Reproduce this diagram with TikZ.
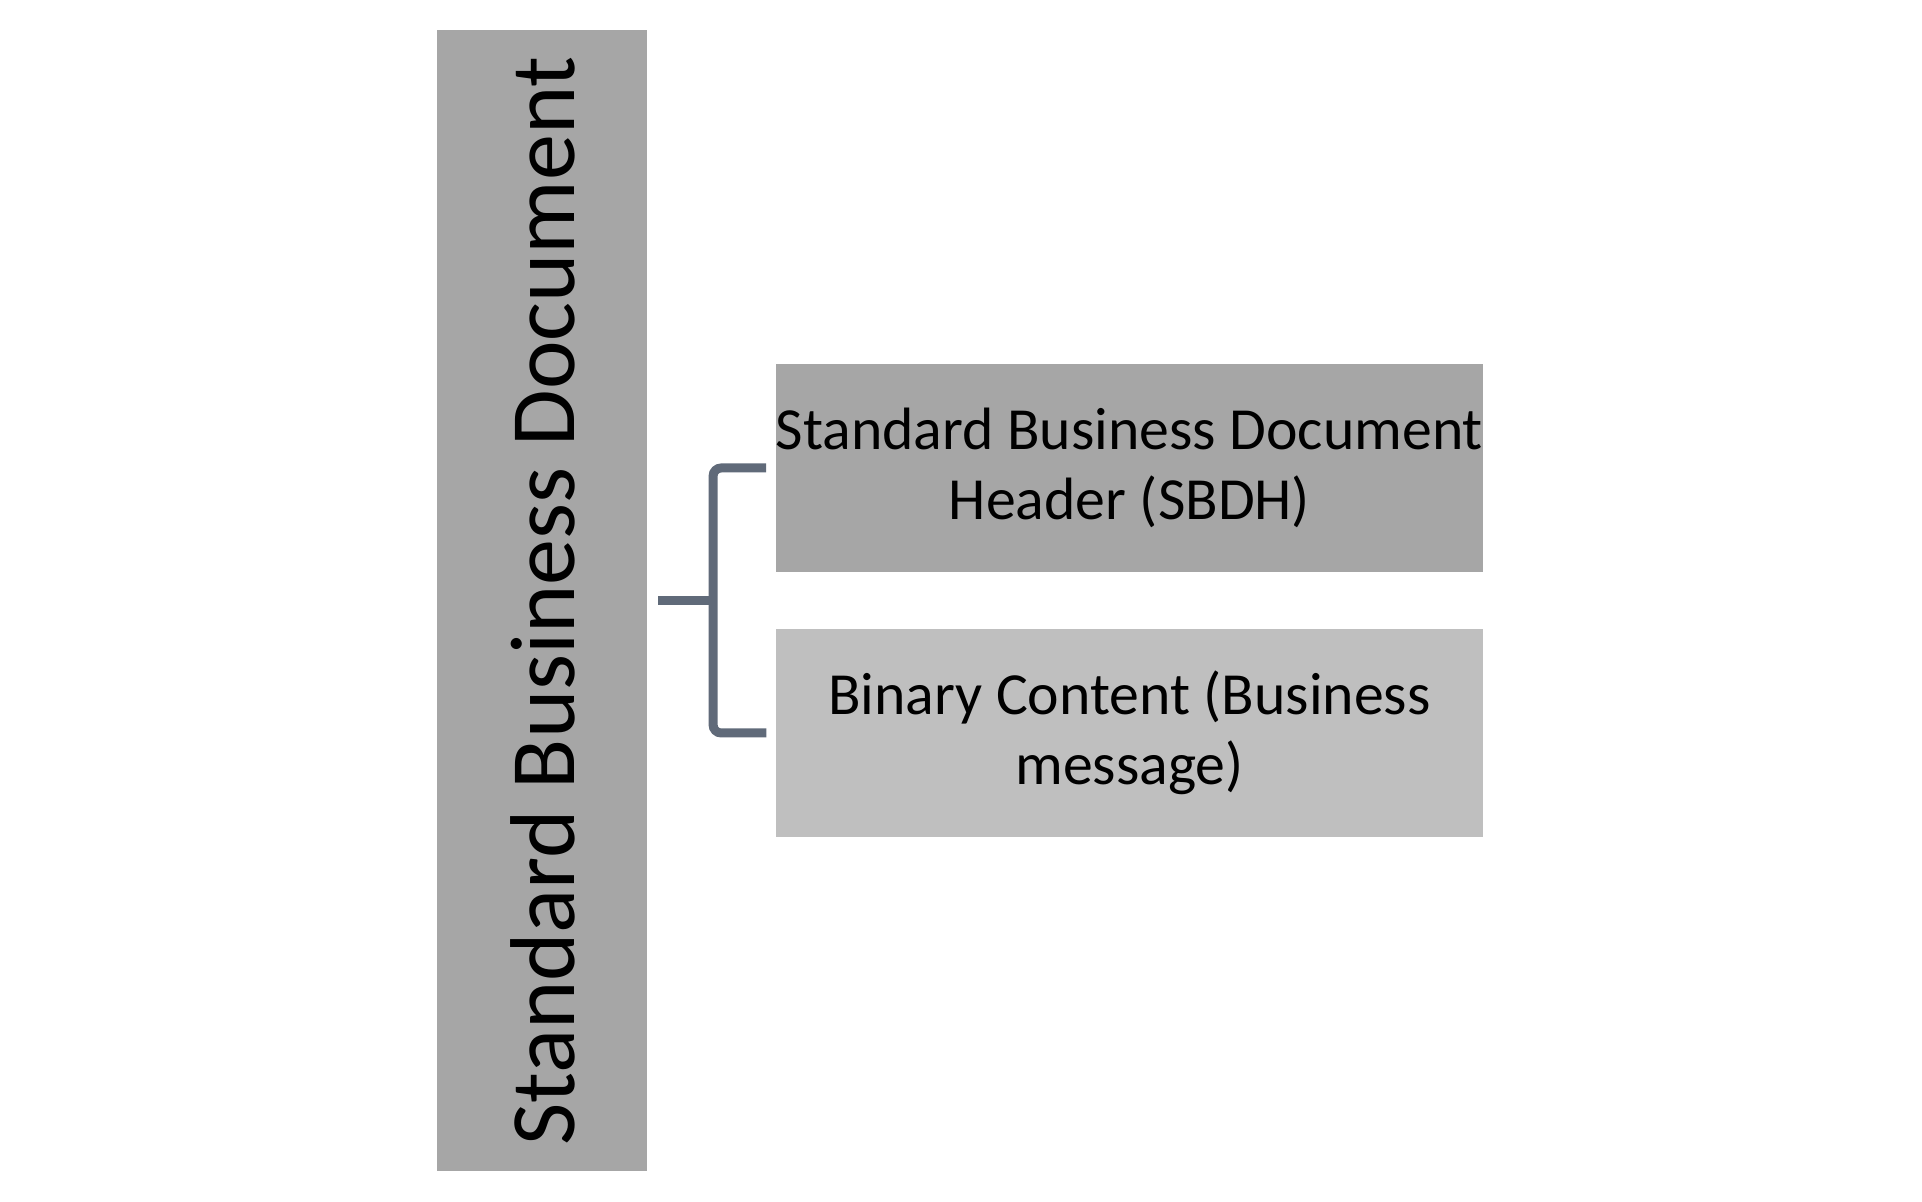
\documentclass[tikz,border=0pt]{standalone}
\usepackage{fontspec}
\setmainfont{Carlito}
\usetikzlibrary{positioning,calc}
\definecolor{bargray}{RGB}{166,166,166}
\definecolor{partgray}{RGB}{191,191,191}
\definecolor{bracketslate}{RGB}{96,106,121}

\begin{document}
\begin{tikzpicture}[
  part/.style={fill=bargray,minimum width=7.07cm,minimum height=2.08cm,
               inner sep=0pt,align=center,text=black,
               font=\fontsize{17}{19.8}\selectfont},
  whole/.style={fill=bargray,rotate=90,minimum width=11.41cm,
                minimum height=2.10cm,inner sep=0pt,text=black,
                font=\fontsize{26.2}{31}\selectfont},
  brace/.style={draw=bracketslate,line width=0.09cm,rounded corners=0.08cm}]
\useasboundingbox (0,0) rectangle (19.22,12.02);
\node[whole](sbd) at (5.424,6.01) {Standard Business Document};
\node[part](sbdh) at (11.295,7.34) {Standard Business Document\\Header (SBDH)};
\node[part,fill=partgray](bin) at (11.295,4.69) {Binary Content (Business\\message)};
% bracket joining the parts to the whole
\draw[brace] ([xshift=0.1cm]sbd.south) -- ++(0.55,0) coordinate (fork);
\draw[brace] ([xshift=-0.09cm]sbdh.west) -| (fork) |- ([xshift=-0.09cm]bin.west);
\end{tikzpicture}
\end{document}
